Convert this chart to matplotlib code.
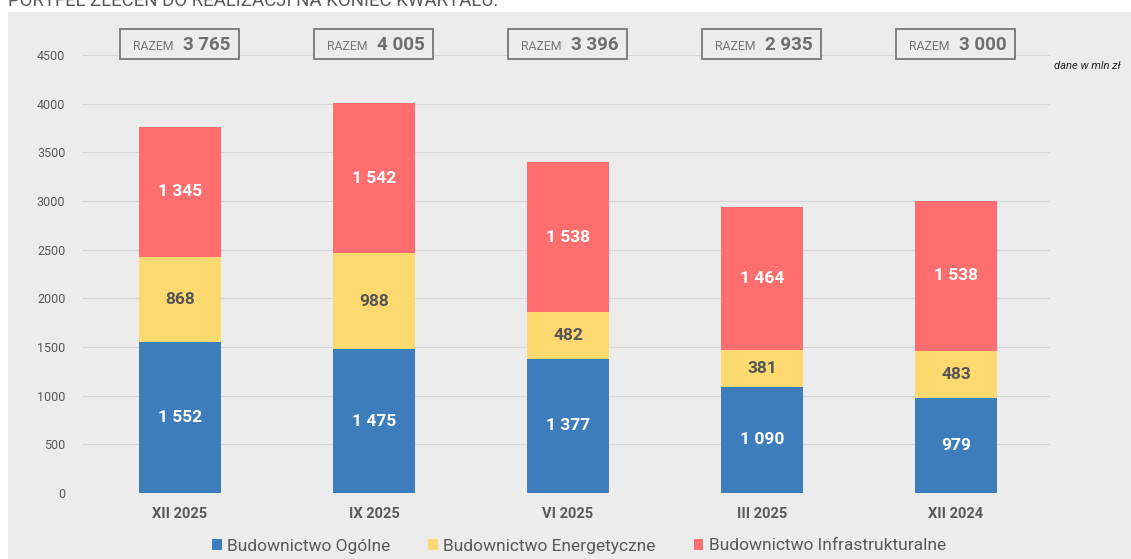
import matplotlib
matplotlib.use("Agg")
import matplotlib.pyplot as plt
from matplotlib.patches import Rectangle

plt.rcParams['font.family'] = ['Roboto', 'DejaVu Sans']

# # Data ______________________________________________________________________________
categories = ["XII 2025", "IX 2025", "VI 2025", "III 2025", "XII 2024"]
ogolne = [1552, 1475, 1377, 1090, 979]
energetyczne = [868, 988, 482, 381, 483]
infrastrukturalne = [1345, 1542, 1538, 1464, 1538]
totals = [3765, 4005, 3396, 2935, 3000]
series_names = ["Budownictwo Ogólne", "Budownictwo Energetyczne", "Budownictwo Infrastrukturalne"]

c_blue = "#3e7dbc"
c_yellow = "#fdd96f"
c_red = "#ff6e6e"
grey_txt = "#595959"

def fmt(v):
    return "{:,}".format(v).replace(",", " ")

W, H = 1131, 559
fig = plt.figure(figsize=(W / 100, H / 100), dpi=100)
fig.patch.set_facecolor("white")
fig.patches.append(Rectangle((8 / W, 0), 1, (H - 12) / H, transform=fig.transFigure,
                             facecolor="#ececec", edgecolor="none", zorder=-10))

# cut-off title at the very top
fig.text(8 / W, 1 - 6 / H, "PORTFEL ZLECEŃ DO REALIZACJI NA KONIEC KWARTAŁU:",
         fontsize=13.4, color=grey_txt, va="baseline", ha="left")

ax = fig.add_axes([82 / W, 1 - 493 / H, (1050 - 82) / W, (493 - 55) / H])
ax.set_facecolor("none")
ax.set_zorder(2)

x = list(range(len(categories)))
bw = 82 / 194
ax.bar(x, ogolne, width=bw, color=c_blue, zorder=3, label=series_names[0])
ax.bar(x, energetyczne, width=bw, bottom=ogolne, color=c_yellow, zorder=3, label=series_names[1])
bot2 = [a + b for a, b in zip(ogolne, energetyczne)]
ax.bar(x, infrastrukturalne, width=bw, bottom=bot2, color=c_red, zorder=3, label=series_names[2])

# segment labels
for i in x:
    ax.text(i, ogolne[i] / 2, fmt(ogolne[i]), ha="center", va="center",
            color="white", fontsize=12.5, fontweight="bold", zorder=4)
    ax.text(i, ogolne[i] + energetyczne[i] / 2, fmt(energetyczne[i]), ha="center", va="center",
            color="#555555", fontsize=12.5, fontweight="bold", zorder=4)
    ax.text(i, bot2[i] + infrastrukturalne[i] / 2, fmt(infrastrukturalne[i]), ha="center", va="center",
            color="white", fontsize=12.5, fontweight="bold", zorder=4)

# RAZEM boxes
px = 1 / 194
py = 4500 / 438
for i in x:
    left = i - 60 * px
    ax.add_patch(Rectangle((left, (493 - 59) * py), 119 * px, 30 * py, facecolor="#ececec",
                           edgecolor="#808080", lw=1.4, clip_on=False, zorder=5))
    yc = (493 - 45) * py
    ax.text(left + 13 * px, yc - 1 * py, "RAZEM", ha="left", va="center", fontsize=8.8,
            color="#767676", clip_on=False, zorder=6)
    ax.text(left + 63 * px, yc, fmt(totals[i]), ha="left", va="center", fontsize=13.5,
            fontweight="bold", color="#6e6e6e", clip_on=False, zorder=6)

ax.set_xlim(-98 / 194, 4 + 94 / 194)
ax.set_ylim(0, 4500)
ax.set_yticks(range(0, 4501, 500))
ax.yaxis.grid(True, color="#d6d6d6", lw=0.8, zorder=0)
ax.set_axisbelow(True)
ax.tick_params(axis="y", length=0, labelsize=9, labelcolor=grey_txt, pad=12)
ax.tick_params(axis="x", length=0, labelsize=10.5, labelcolor=grey_txt, pad=10)
ax.set_xticks(x)
ax.set_xticklabels(categories, fontweight="bold")
for s in ax.spines.values():
    s.set_visible(False)

fig.text(1054 / W, 1 - 66 / H, "dane w mln zł", fontsize=8, style="italic",
         color="#222222", va="center", ha="left")

leg = ax.legend(loc="center", bbox_to_anchor=(579 / W, 1 - 546 / H), bbox_transform=fig.transFigure,
                ncol=3, frameon=False, fontsize=12.5, handlelength=0.55, handleheight=0.55,
                handletextpad=0.3, columnspacing=2.2, labelcolor=grey_txt)

fig.savefig("out.png", dpi=100, facecolor=fig.get_facecolor())
